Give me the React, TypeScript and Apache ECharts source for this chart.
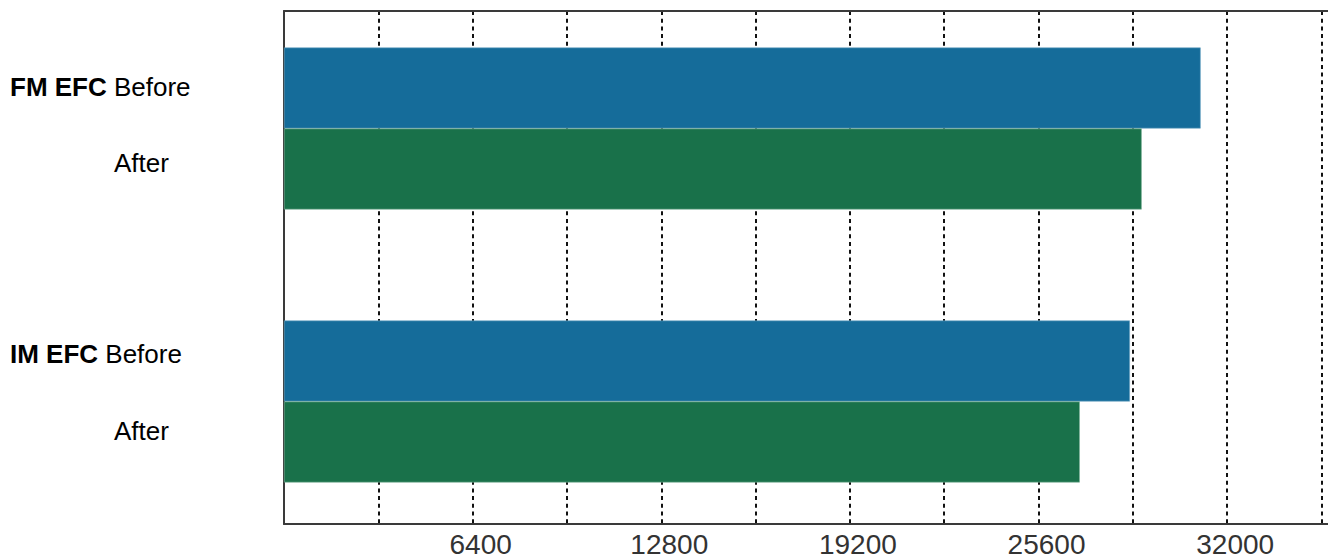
import React, { useEffect, useRef } from "react";
import * as echarts from "echarts";

const groups = ["FM EFC", "IM EFC"];
const beforeValues = [31100, 28700];
const afterValues = [29100, 27000];
const tickLabels = [6400, 12800, 19200, 25600, 32000];

export default function App() {
  const ref = useRef<HTMLDivElement>(null);
  useEffect(() => {
    if (!ref.current) return;
    const chart = echarts.init(ref.current, undefined, { renderer: "svg" });
    const axisMax = 35420;
    const lineColor = "#3a3a3a";
    const off = 8;
    chart.setOption({
      animation: false,
      backgroundColor: "#ffffff",
      grid: [
        { left: 284, right: 0, top: 11 + off, bottom: 33 },
        { left: 284, right: 0, top: 0, bottom: 20 },
      ],
      xAxis: [
        {
          type: "value",
          gridIndex: 0,
          min: 0,
          max: axisMax,
          interval: 3200,
          axisLine: { show: true, lineStyle: { color: lineColor, width: 2 } },
          axisTick: { show: false },
          splitLine: {
            show: true,
            showMinLine: false,
            showMaxLine: false,
            lineStyle: { color: "#111", width: 2, type: [4, 3.7] },
          },
          axisLabel: {
            show: true,
            showMaxLabel: false,
            margin: 6,
            padding: [0, 0, 0, 16],
            fontFamily: "Liberation Sans",
            fontSize: 28,
            color: "#333",
            formatter: (v: number) => (tickLabels.indexOf(v) >= 0 ? String(v) : ""),
          },
        },
        {
          type: "value",
          gridIndex: 0,
          position: "top",
          min: 0,
          max: axisMax,
          interval: 3200,
          axisLine: { show: true, lineStyle: { color: lineColor, width: 2 } },
          axisTick: { show: false },
          splitLine: { show: false },
          axisLabel: { show: false },
        },
        {
          type: "value",
          gridIndex: 1,
          min: 0,
          max: axisMax,
          interval: 3200,
          show: false,
        },
      ],
      yAxis: [
        {
          type: "category",
          gridIndex: 0,
          data: groups,
          axisLine: { show: true, lineStyle: { color: lineColor, width: 2 } },
          axisTick: { show: false },
          axisLabel: { show: false },
          splitLine: { show: false },
        },
        {
          type: "category",
          gridIndex: 1,
          data: groups,
          inverse: true,
          show: false,
        },
      ],
      series: [
        {
          name: "Before",
          type: "bar",
          xAxisIndex: 2,
          yAxisIndex: 1,
          data: beforeValues,
          barGap: "0%",
          barCategoryGap: "40.66%",
          itemStyle: { color: "#156c9a", borderColor: "#6fa6c4", borderWidth: 0.6 },
        },
        {
          name: "After",
          type: "bar",
          xAxisIndex: 2,
          yAxisIndex: 1,
          data: afterValues,
          barGap: "0%",
          barCategoryGap: "40.66%",
          itemStyle: { color: "#19714a", borderColor: "#7fb39a", borderWidth: 0.6 },
        },
      ],
      graphic: [
        {
          type: "text",
          left: 10,
          top: 73.5 + off,
          style: {
            text: "{b|FM EFC} Before",
            fontFamily: "Liberation Sans",
            fontSize: 26,
            fill: "#000",
            rich: { b: { fontWeight: "bold", fontFamily: "Liberation Sans", fontSize: 26, fill: "#000" } },
          },
        },
        {
          type: "text",
          left: 114,
          top: 150 + off,
          style: { text: "After", fontFamily: "Liberation Sans", fontSize: 26, fill: "#000" },
        },
        {
          type: "text",
          left: 10,
          top: 340.5 + off,
          style: {
            text: "{b|IM EFC} Before",
            fontFamily: "Liberation Sans",
            fontSize: 26,
            fill: "#000",
            rich: { b: { fontWeight: "bold", fontFamily: "Liberation Sans", fontSize: 26, fill: "#000" } },
          },
        },
        {
          type: "text",
          left: 114,
          top: 417.5 + off,
          style: { text: "After", fontFamily: "Liberation Sans", fontSize: 26, fill: "#000" },
        },
      ],
    });
    return () => chart.dispose();
  }, []);
  return (
    <div
      ref={ref}
      style={{ position: "absolute", left: 0, top: -8, width: 1328, height: 566 }}
    />
  );
}
